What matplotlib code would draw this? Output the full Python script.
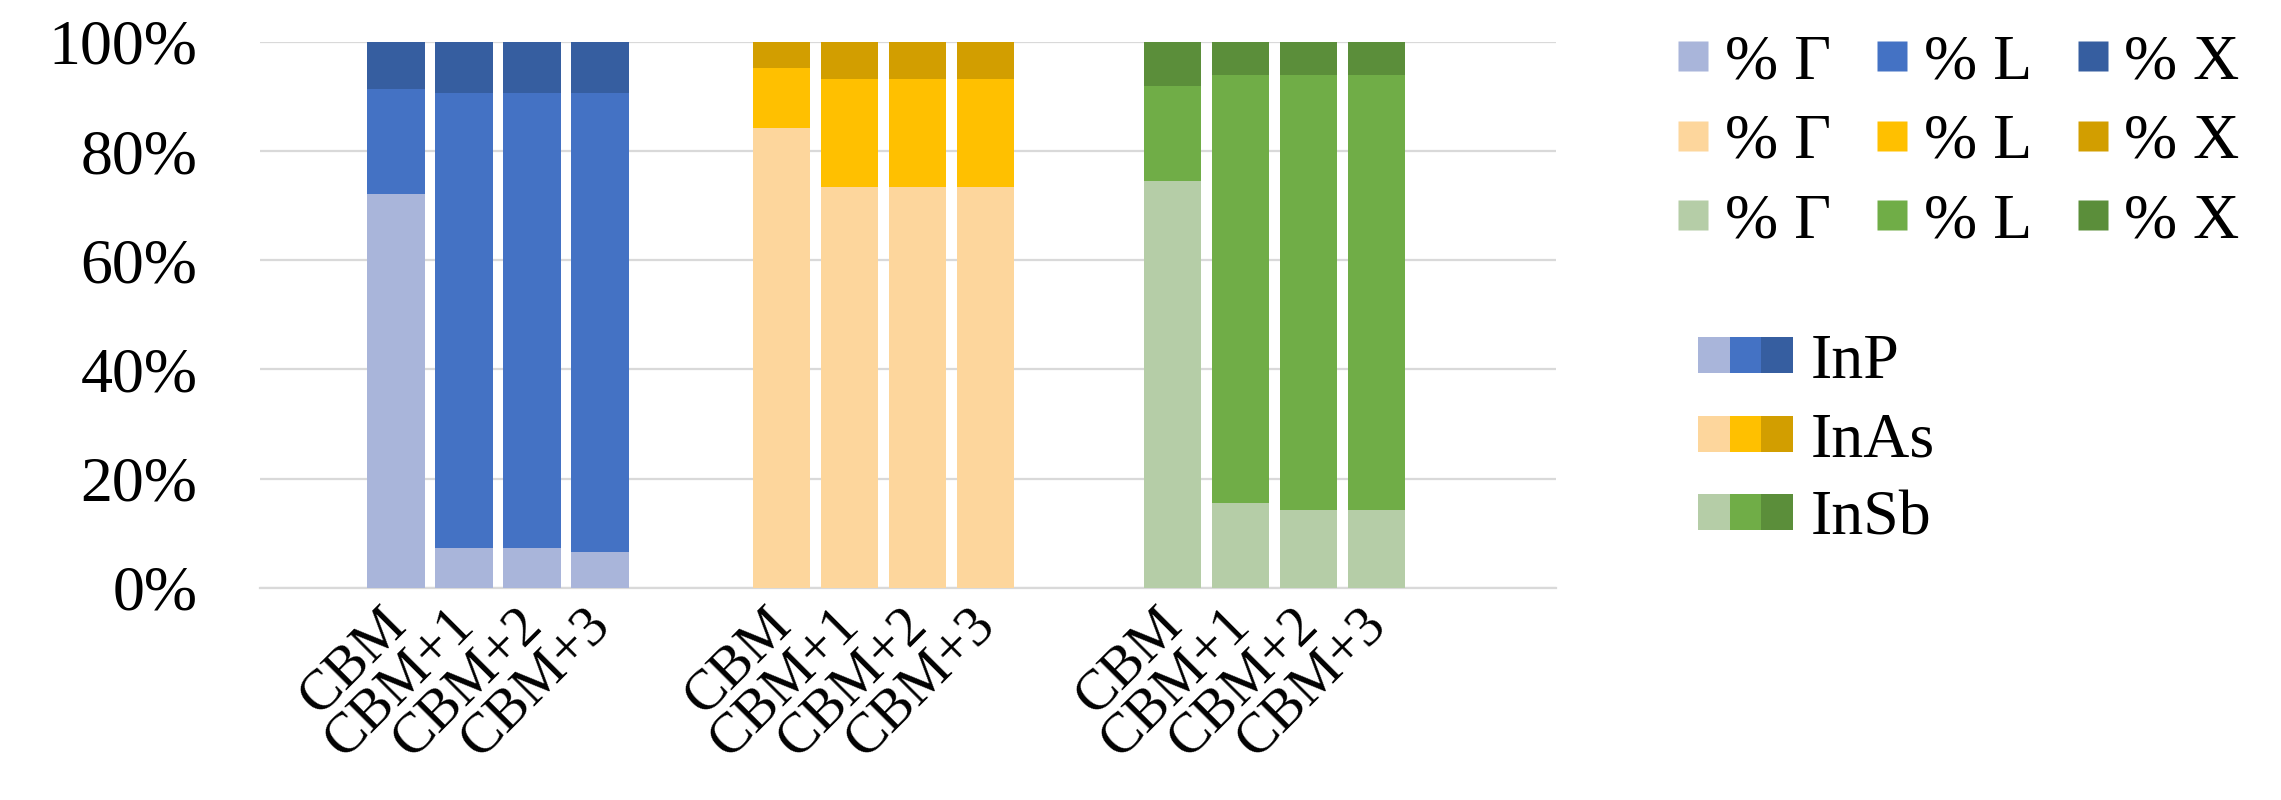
import matplotlib
matplotlib.use("Agg")
import matplotlib.pyplot as plt
from matplotlib.patches import Patch
from matplotlib.lines import Line2D
from matplotlib.legend_handler import HandlerTuple
from matplotlib.ticker import PercentFormatter
from matplotlib.transforms import ScaledTranslation

# ---------------- data ----------------
materials = ["InP", "InAs", "InSb"]
states = ["CBM", "CBM+1", "CBM+2", "CBM+3"]
valley_labels = ["% Γ", "% L", "% X"]

inp_gamma = [72.1, 7.2, 7.2, 6.5]
inp_l = [19.2, 83.5, 83.5, 84.2]
inp_x = [8.7, 9.3, 9.3, 9.3]

inas_gamma = [84.2, 73.4, 73.4, 73.4]
inas_l = [11.0, 19.8, 19.8, 19.8]
inas_x = [4.8, 6.8, 6.8, 6.8]

insb_gamma = [74.6, 15.6, 14.2, 14.2]
insb_l = [17.3, 78.3, 79.7, 79.7]
insb_x = [8.1, 6.1, 6.1, 6.1]

yticks = [0, 20, 40, 60, 80, 100]

# ---------------- style ----------------
colors = {
    "InP": ["#A9B5DA", "#4472C4", "#365EA0"],
    "InAs": ["#FDD69C", "#FFC000", "#D29E00"],
    "InSb": ["#B5CDA7", "#70AD47", "#5B8E3A"],
}
group_start = [0.0, 5.67, 11.42]
bar_w = 0.846
FONT = "Liberation Serif"
grid_c = "#D9D9D9"

W, H = 2281, 800
fig = plt.figure(figsize=(W / 100, H / 100), dpi=100)
ax = fig.add_axes([260 / W, 212.3 / H, (1556 - 260) / W, (587.7 - 42) / H])

series = {
    "InP": [inp_gamma, inp_l, inp_x],
    "InAs": [inas_gamma, inas_l, inas_x],
    "InSb": [insb_gamma, insb_l, insb_x],
}

xt, xl = [], []
for gi, m in enumerate(materials):
    xs = [group_start[gi] + i for i in range(len(states))]
    bottom = [0.0] * len(states)
    for vi, vals in enumerate(series[m]):
        ax.bar(xs, vals, width=bar_w, bottom=bottom, color=colors[m][vi],
               edgecolor="none", zorder=3)
        bottom = [b + v for b, v in zip(bottom, vals)]
    xt += xs
    xl += states

ax.set_xlim(-2.0, 17.06)
ax.set_ylim(0, 100)
ax.set_yticks(yticks)
ax.yaxis.set_major_formatter(PercentFormatter(100, decimals=0))
ax.yaxis.grid(True, color=grid_c, lw=1.6, zorder=0)
ax.set_axisbelow(True)
for s in ["left", "right", "top"]:
    ax.spines[s].set_visible(False)
ax.spines["bottom"].set_color(grid_c)
ax.spines["bottom"].set_linewidth(1.6)
ax.tick_params(axis="both", length=0)
ax.tick_params(axis="y", pad=45)
for lab in ax.get_yticklabels():
    lab.set_fontfamily(FONT)
    lab.set_fontsize(46)

ax.set_xticks(xt)
ax.set_xticklabels(xl, rotation=45, ha="right", va="top",
                   rotation_mode="anchor", fontfamily=FONT, fontsize=41)
off = ScaledTranslation(-12 / 72, -4 / 72, fig.dpi_scale_trans)
for lab in ax.get_xticklabels():
    lab.set_transform(lab.get_transform() + off)

# ---------------- legends ----------------
h1, l1 = [], []
for vi in range(3):
    for m in materials:
        h1.append(Line2D([], [], marker="s", linestyle="none", markersize=22,
                         markerfacecolor=colors[m][vi], markeredgecolor="none"))
        l1.append(valley_labels[vi])
leg1 = fig.legend(h1, l1, ncol=3, loc="upper left",
                  bbox_to_anchor=(1677 / W, 1 - 34 / H),
                  frameon=False, prop={"family": FONT, "size": 46},
                  handlelength=0.5, handletextpad=0.25, columnspacing=0.7,
                  labelspacing=0.32, borderpad=0, borderaxespad=0)

h2 = [tuple(Patch(facecolor=c, edgecolor="none") for c in colors[m]) for m in materials]
leg2 = fig.legend(h2, materials, loc="upper left",
                  bbox_to_anchor=(1698 / W, 1 - 334 / H),
                  frameon=False, prop={"family": FONT, "size": 46},
                  handler_map={tuple: HandlerTuple(ndivide=None, pad=0)},
                  handlelength=1.49, handleheight=0.485, handletextpad=0.27,
                  labelspacing=0.32, borderpad=0, borderaxespad=0)

fig.savefig("out.png", dpi=100)
